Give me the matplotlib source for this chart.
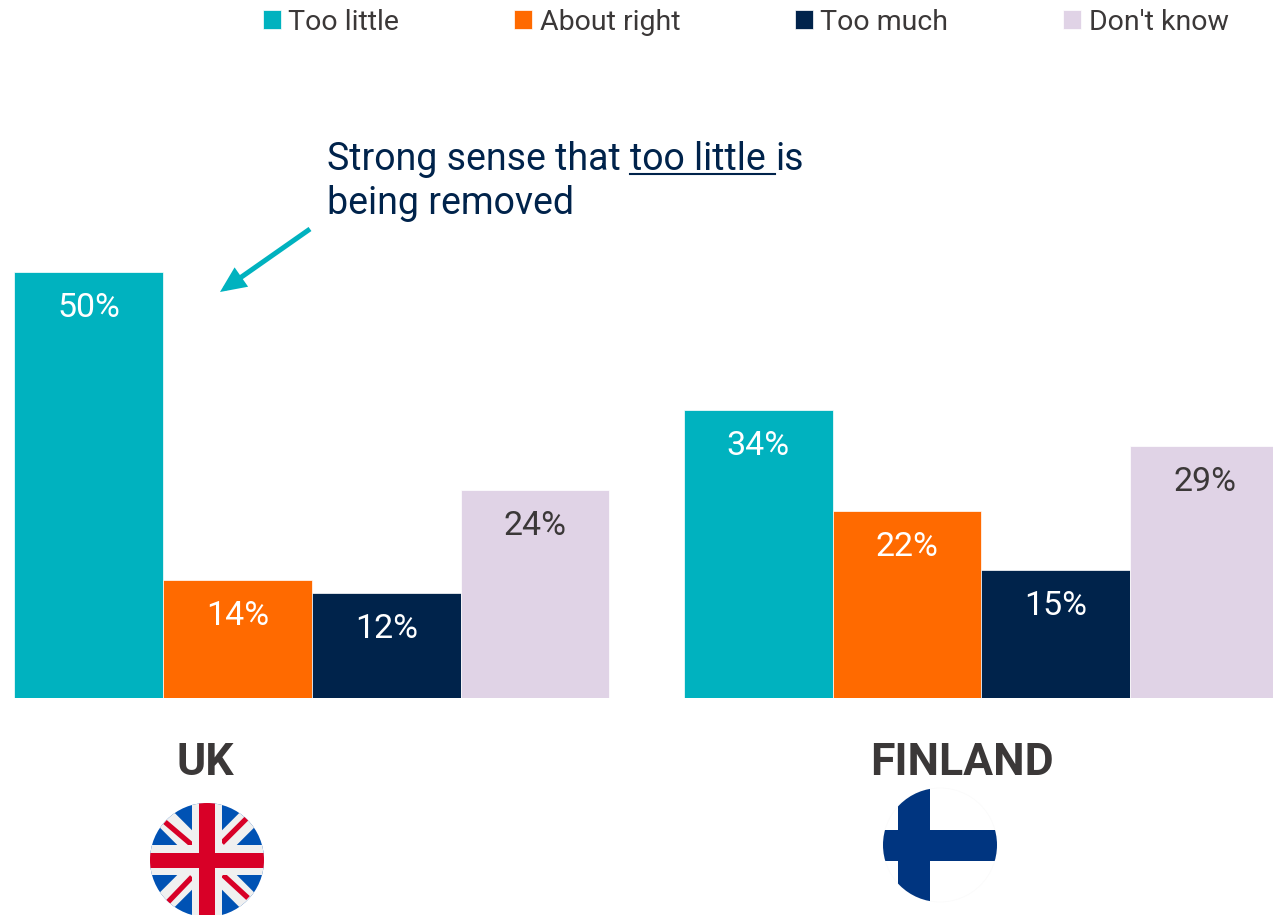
import numpy as np
import matplotlib
matplotlib.use('Agg')
import matplotlib.pyplot as plt
from matplotlib.patches import Circle

# %% Data
countries = ['UK', 'FINLAND']
answers = ['Too little', 'About right', 'Too much', "Don't know"]
uk_values = [50, 13.9, 12.3, 24.4]  # bar heights
finland_values = [33.8, 22.0, 15.0, 29.6]
uk_labels = ['50%', '14%', '12%', '24%']
finland_labels = ['34%', '22%', '15%', '29%']

colors = ['#00B2BF', '#FF6A00', '#00234B', '#E0D3E6']
label_colors = ['white', 'white', 'white', '#3B3838']
navy = '#00234B'
dark = '#3B3838'

plt.rcParams['font.family'] = ['Roboto', 'DejaVu Sans']

W, H = 1273, 915
fig = plt.figure(figsize=(W / 100, H / 100), dpi=100)

# %% Bars
bar_px = 148.8
left_px = 14.2
base_px = 698
ax = fig.add_axes([left_px / W, (H - base_px) / H, (W - left_px) / W, base_px / H])
ax.set_xlim(-0.5, (W - left_px) / bar_px - 0.5)
ax.set_ylim(0, base_px / 8.52)
ax.axis('off')

for i_answer in range(4):
    xs = [i_answer, i_answer + 4.5]
    vals = [uk_values[i_answer], finland_values[i_answer]]
    labels = [uk_labels[i_answer], finland_labels[i_answer]]
    ax.bar(xs, vals, width=1, color=colors[i_answer], edgecolor='white',
           linewidth=0.5, label=answers[i_answer])
    for x, v, lab in zip(xs, vals, labels):
        ax.annotate(lab, (x, v), xytext=(0, -26), textcoords='offset points',
                    ha='center', va='center', fontsize=24.5, color=label_colors[i_answer])

# legend across the top
fig.legend(loc='upper left', bbox_to_anchor=(248.5 / W, 1.006), ncol=4, frameon=False,
           fontsize=20.5, labelcolor=dark, handlelength=0.63, handleheight=0.63,
           handletextpad=0.27, columnspacing=4.03, borderaxespad=0.2, borderpad=0.3)

# %% Overlay in pixel coordinates for annotation and flags
over = fig.add_axes([0, 0, 1, 1], facecolor='none')
over.set_xlim(0, W)
over.set_ylim(H, 0)
over.axis('off')

# callout, underlined part measured from the renderer
renderer = fig.canvas.get_renderer()
callout_size = 27
x_now = 327
for piece, underlined in [('Strong sense that ', False), ('too little ', True), ('is', False)]:
    over.text(x_now, 170, piece, fontsize=callout_size, color=navy, ha='left', va='baseline')
    # trailing spaces are dropped from the extent, so measure with a closing char
    probe = over.text(0, 0, piece + '|', fontsize=callout_size)
    bar = over.text(0, 0, '|', fontsize=callout_size)
    width = probe.get_window_extent(renderer).width - bar.get_window_extent(renderer).width
    probe.remove()
    bar.remove()
    if underlined:
        over.plot([x_now, x_now + width], [174, 174], color=navy, lw=1.5)
    x_now += width
over.text(327, 214, 'being removed', fontsize=callout_size, color=navy, ha='left', va='baseline')

over.annotate('', xy=(220, 292), xytext=(310, 229),
              arrowprops=dict(arrowstyle='-|>,head_length=0.42,head_width=0.19', color=colors[0],
                              lw=3.6, shrinkA=0, shrinkB=0, mutation_scale=30,
                              capstyle='butt', joinstyle='miter'))

# country names
over.text(205, 763, countries[0], fontsize=32, fontweight='bold', color=dark, ha='center', va='center')
over.text(962, 763, countries[1], fontsize=32, fontweight='bold', color=dark, ha='center', va='center')

# UK flag
cx, cy, r = 207, 860, 57
over.add_patch(Circle((cx, cy), r, facecolor='#0052B4', edgecolor='none', zorder=1))
clip = Circle((cx, cy), r, transform=over.transData)
uk_white = '#F0F0F0'
uk_red = '#D80027'
for dx in [-1, 1]:
    ln, = over.plot([cx - r * dx, cx + r * dx], [cy - r, cy + r], color=uk_white, lw=15,
                    solid_capstyle='butt', zorder=2)
    ln.set_clip_path(clip)
for (x0, y0, x1, y1) in [(165, 822, 192, 845), (222, 843, 247, 818), (168, 902, 192, 877), (223, 875, 248, 898)]:
    ln, = over.plot([x0, x1], [y0, y1], color=uk_red, lw=3.8, solid_capstyle='butt', zorder=3)
    ln.set_clip_path(clip)
# white cross first, red cross on top
rect = over.fill_between([cx - r, cx + r], cy - 15, cy + 15, color=uk_white, lw=0, zorder=4)
rect.set_clip_path(clip)
rect = over.fill_between([cx - 15, cx + 15], cy - r, cy + r, color=uk_white, lw=0, zorder=4)
rect.set_clip_path(clip)
rect = over.fill_between([cx - r, cx + r], cy - 7.5, cy + 7.5, color=uk_red, lw=0, zorder=5)
rect.set_clip_path(clip)
rect = over.fill_between([cx - 8, cx + 8], cy - r, cy + r, color=uk_red, lw=0, zorder=5)
rect.set_clip_path(clip)

# Finland flag
cx, cy = 940, 845
over.add_patch(Circle((cx, cy), r, facecolor='white', edgecolor='#FAFAFA', lw=0.5))
clip = Circle((cx, cy), r, transform=over.transData)
fi_blue = '#003580'
rect = over.fill_between([898, 930], cy - r, cy + r, color=fi_blue, lw=0)
rect.set_clip_path(clip)
rect = over.fill_between([cx - r, cx + r], 830, 861, color=fi_blue, lw=0)
rect.set_clip_path(clip)

fig.savefig('out.png', dpi=100)
